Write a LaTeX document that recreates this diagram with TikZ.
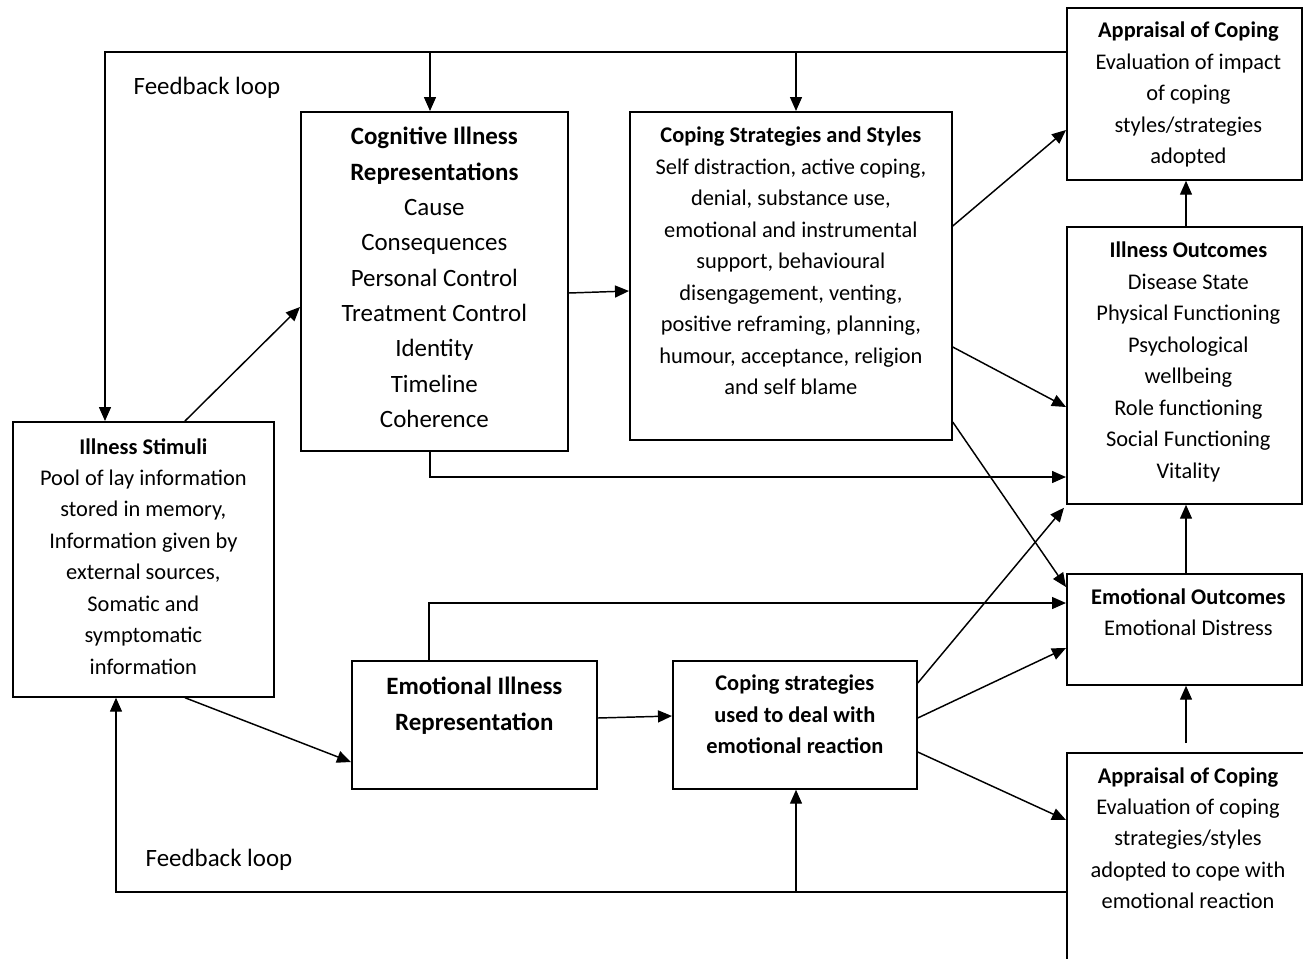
\documentclass[tikz,border=0pt]{standalone}
\usepackage{fontspec}
\setmainfont{Carlito}
\usetikzlibrary{calc,arrows.meta}
\begin{document}
\begin{tikzpicture}[x=0.75pt,y=-0.75pt,
 box/.style={draw, line width=1.3pt, rectangle, inner sep=0pt, anchor=north west},
 sm/.style={font=\fontsize{16.8}{23.6}\selectfont, align=center, inner sep=0pt, anchor=north},
 lg/.style={font=\fontsize{18.7}{26.5}\selectfont, align=center, inner sep=0pt, anchor=north},
 arr/.style={line width=1.1pt, -{Triangle[length=10.5pt,width=9pt]}}]
\useasboundingbox (0,0) rectangle (1303,958);
\clip (0,0) rectangle (1303,958);
% boxes
\node[box, minimum width=195.75pt, minimum height=206.25pt] (stim) at (12,421) {};
\node[box, minimum width=200.25pt, minimum height=254.25pt] (cog) at (300,111) {};
\node[box, minimum width=241.5pt, minimum height=246pt] (cope) at (629,111) {};
\node[box, minimum width=176.25pt, minimum height=129pt] (appT) at (1066,7) {};
\node[box, minimum width=176.25pt, minimum height=207.75pt] (ill) at (1066,226) {};
\node[box, minimum width=176.25pt, minimum height=83.25pt] (emo) at (1066,573) {};
\node[box, minimum width=195pt, minimum height=195pt] (appB) at (1066,752) {};
\node[box, minimum width=183.75pt, minimum height=96pt] (eir) at (351,660) {};
\node[box, minimum width=183pt, minimum height=96pt] (cemo) at (672,660) {};
% texts
\node[sm] (stimT) at ($(stim.north)+(0,17)$) {\textbf{Illness Stimuli}\\Pool of lay information\\stored in memory,\\Information given by\\external sources,\\Somatic and\\symptomatic\\information};
\node[lg] (cogT) at ($(cog.north)+(0,16)$) {\textbf{Cognitive Illness}\\\textbf{Representations}\\Cause\\Consequences\\Personal Control\\Treatment Control\\Identity\\Timeline\\Coherence};
\node[sm] (copeT) at ($(cope.north)+(0,16)$) {\textbf{Coping Strategies and Styles}\\Self distraction, active coping,\\denial, substance use,\\emotional and instrumental\\support, behavioural\\disengagement, venting,\\positive reframing, planning,\\humour, acceptance, religion\\and self blame};
\node[sm] (appTT) at ($(appT.north)+(4,15)$) {\textbf{Appraisal of Coping}\\Evaluation of impact\\of coping\\styles/strategies\\adopted};
\node[sm] (illT) at ($(ill.north)+(4,16)$) {\textbf{Illness Outcomes}\\Disease State\\Physical Functioning\\Psychological\\wellbeing\\Role functioning\\Social Functioning\\Vitality};
\node[sm] (emoT) at ($(emo.north)+(4,15)$) {\textbf{Emotional Outcomes}\\Emotional Distress};
\node[sm] (appBT) at ($(appB.north west)+(122,15)$) {\textbf{Appraisal of Coping}\\Evaluation of coping\\strategies/styles\\adopted to cope with\\emotional reaction};
\node[lg] (eirT) at ($(eir.north)+(0,17)$) {\textbf{Emotional Illness}\\\textbf{Representation}};
\node[sm] (cemoT) at ($(cemo.north)+(0,15)$) {\textbf{Coping strategies}\\\textbf{used to deal with}\\\textbf{emotional reaction}};
\node[lg, anchor=center] (fb1) at (207,88) {Feedback loop};
\node[lg, anchor=center] (fb2) at (219,860) {Feedback loop};
% connectors
\coordinate (fbA) at ($(appT.north west)+(0,45)$);
\draw[arr] (fbA) -| ($(stim.north west)+(93,0)$);
\draw[arr] ($(fbA)+(-636,0)$) -- ($(cog.north west)+(130,0)$);
\draw[arr] ($(fbA)+(-270,0)$) -- ($(cope.north west)+(167,0)$);
\draw[arr] ($(stim.north west)+(173,0)$) -- ($(cog.north west)+(0,196)$);
\draw[arr] ($(cog.north east)+(0,182)$) -- ($(cope.north west)+(0,180)$);
\draw[arr] ($(cog.south west)+(130,0)$) |- ($(ill.north west)+(0,251)$);
\draw[arr] ($(cope.north east)+(0,115)$) -- ($(appT.north west)+(0,123)$);
\draw[arr] ($(cope.north east)+(0,236)$) -- ($(ill.north west)+(0,181)$);
\draw[arr] ($(cope.north east)+(0,311)$) -- ($(emo.north west)+(0,14)$);
\draw[arr] ($(ill.north west)+(120,0)$) -- ($(appT.south west)+(120,0)$);
\draw[arr] ($(emo.north west)+(120,0)$) -- ($(ill.south west)+(120,0)$);
\draw[arr] ($(appB.north west)+(120,-9)$) -- ($(emo.south west)+(120,0)$);
\draw[arr] ($(stim.south west)+(173,0)$) -- ($(eir.north west)+(0,102)$);
\draw[arr] ($(eir.north west)+(78,0)$) |- ($(emo.north west)+(0,30)$);
\draw[arr] ($(eir.north east)+(0,58)$) -- ($(cemo.north west)+(0,56)$);
\draw[arr] ($(cemo.north east)+(0,23)$) -- ($(ill.south west)+(-2,3)$);
\draw[arr] ($(cemo.north east)+(0,58)$) -- ($(emo.north west)+(0,75)$);
\draw[arr] ($(cemo.north east)+(0,92)$) -- ($(appB.north west)+(0,68)$);
\coordinate (fbB) at ($(appB.north west)+(0,140)$);
\draw[arr] (fbB) -| ($(stim.south west)+(104,0)$);
\draw[arr] ($(fbB)+(-270,0)$) -- ($(cemo.south west)+(124,0)$);
\end{tikzpicture}
\end{document}
